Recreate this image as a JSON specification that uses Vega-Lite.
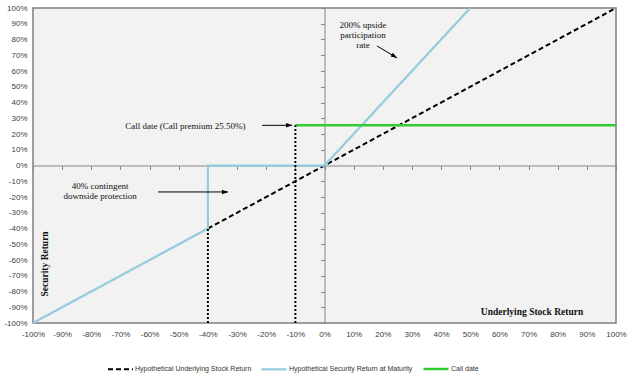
{
  "$schema": "https://vega.github.io/schema/vega-lite/v6.json",
  "width": 583,
  "height": 315,
  "autosize": {"type": "none"},
  "padding": {"left": 33, "top": 8, "right": 14, "bottom": 61},
  "background": "white",
  "config": {
    "view": {"fill": "#f2f2f2", "stroke": "#7f7f7f", "strokeWidth": 1.5},
    "locale": {"number": {"decimal": ".", "thousands": ",", "grouping": [3], "currency": ["$", ""], "minus": "-"}},
    "axis": {"labelFont": "Liberation Sans", "labelFontSize": 8, "labelColor": "#404040", "grid": false, "title": null}
  },
  "datasets": {
    "lines": [
      {"series": "Hypothetical Underlying Stock Return", "step": 1, "x": -0.4, "y": -0.4},
      {"series": "Hypothetical Underlying Stock Return", "step": 2, "x": 1, "y": 1},
      {"series": "Hypothetical Security Return at Maturity", "step": 1, "x": -1, "y": -1},
      {"series": "Hypothetical Security Return at Maturity", "step": 2, "x": -0.4, "y": -0.4},
      {"series": "Hypothetical Security Return at Maturity", "step": 3, "x": -0.4, "y": 0},
      {"series": "Hypothetical Security Return at Maturity", "step": 4, "x": 0, "y": 0},
      {"series": "Hypothetical Security Return at Maturity", "step": 5, "x": 0.5, "y": 1},
      {"series": "Call date", "step": 1, "x": -0.1, "y": 0.255},
      {"series": "Call date", "step": 2, "x": 1, "y": 0.255}
    ],
    "dotted": [
      {"x": -0.4, "y": -1, "y2": -0.4},
      {"x": -0.1, "y": -1, "y2": 0.255}
    ],
    "arrows": [
      {"id": "a1", "x": 0.18, "y": 0.759, "x2": 0.249, "y2": 0.683},
      {"id": "a2", "x": -0.214, "y": 0.255, "x2": -0.111, "y2": 0.255},
      {"id": "a3", "x": -0.571, "y": -0.168, "x2": -0.331, "y2": -0.168}
    ],
    "heads": [
      {"id": "a1", "x": 0.24, "y": 0.693},
      {"id": "a2", "x": -0.121, "y": 0.255},
      {"id": "a3", "x": -0.341, "y": -0.168}
    ],
    "notes": [
      {"label": "200% upside\nparticipation\nrate", "x": 0.132, "y": 0.892},
      {"label": "Call date (Call premium 25.50%)", "x": -0.477, "y": 0.252},
      {"label": "40% contingent\ndownside protection", "x": -0.77, "y": -0.13}
    ]
  },
  "resolve": {"axis": {"x": "independent", "y": "independent"}},
  "layer": [
    {
      "data": {"name": "dotted"},
      "mark": {"type": "rule", "opacity": 0},
      "encoding": {
        "x": {"field": "x", "type": "quantitative", "scale": {"domain": [-1, 1], "nice": false, "zero": false},
          "axis": {"orient": "bottom", "values": [-1, -0.9, -0.8, -0.7, -0.6, -0.5, -0.4, -0.3, -0.2, -0.1, 0, 0.1, 0.2, 0.3, 0.4, 0.5, 0.6, 0.7, 0.8, 0.9, 1], "format": ".0%", "ticks": false, "domain": false, "labelPadding": 7, "labelFlush": false, "labelOverlap": false}},
        "y": {"field": "y", "type": "quantitative", "scale": {"domain": [-1, 1], "nice": false, "zero": false},
          "axis": {"orient": "left", "values": [-1, -0.9, -0.8, -0.7, -0.6, -0.5, -0.4, -0.3, -0.2, -0.1, 0, 0.1, 0.2, 0.3, 0.4, 0.5, 0.6, 0.7, 0.8, 0.9, 1], "format": ".0%", "ticks": false, "domain": false, "labelPadding": 6, "labelFlush": false, "labelOverlap": false}}
      }
    },
    {
      "data": {"name": "dotted"},
      "mark": {"type": "rule", "opacity": 0},
      "encoding": {
        "x": {"field": "x", "type": "quantitative",
          "axis": {"orient": "bottom", "offset": -157.5, "values": [-1, -0.9, -0.8, -0.7, -0.6, -0.5, -0.4, -0.3, -0.2, -0.1, 0, 0.1, 0.2, 0.3, 0.4, 0.5, 0.6, 0.7, 0.8, 0.9, 1], "labels": false, "ticks": true, "tickSize": 4, "tickColor": "#868686", "domain": true, "domainColor": "#868686"}},
        "y": {"field": "y", "type": "quantitative",
          "axis": {"orient": "left", "offset": -291.5, "values": [-1, -0.9, -0.8, -0.7, -0.6, -0.5, -0.4, -0.3, -0.2, -0.1, 0, 0.1, 0.2, 0.3, 0.4, 0.5, 0.6, 0.7, 0.8, 0.9, 1], "labels": false, "ticks": true, "tickSize": 4, "tickColor": "#868686", "domain": true, "domainColor": "#868686"}}
      }
    },
    {
      "data": {"name": "lines"},
      "mark": {"type": "line"},
      "encoding": {
        "x": {"field": "x", "type": "quantitative", "axis": null},
        "y": {"field": "y", "type": "quantitative", "axis": null},
        "order": {"field": "step", "type": "quantitative"},
        "color": {"field": "series", "type": "nominal",
          "scale": {"domain": ["Hypothetical Underlying Stock Return", "Hypothetical Security Return at Maturity", "Call date"], "range": ["#000000", "#93cddd", "#33cc33"]},
          "legend": {"title": null, "orient": "none", "legendX": 74, "legendY": 347, "direction": "horizontal", "symbolType": "stroke", "symbolSize": 625, "symbolStrokeWidth": 2, "labelFont": "Liberation Sans", "labelFontSize": 7, "labelColor": "#333333", "labelOffset": 1, "columnPadding": 5}},
        "strokeDash": {"field": "series", "type": "nominal",
          "scale": {"domain": ["Hypothetical Underlying Stock Return", "Hypothetical Security Return at Maturity", "Call date"], "range": [[5, 3], [1, 0], [1, 0]]},
          "legend": {"title": null, "orient": "none", "legendX": 74, "legendY": 347, "direction": "horizontal", "symbolType": "stroke", "symbolSize": 625, "symbolStrokeWidth": 2, "labelFont": "Liberation Sans", "labelFontSize": 7, "labelColor": "#333333", "labelOffset": 1, "columnPadding": 5}},
        "strokeWidth": {"field": "series", "type": "nominal",
          "scale": {"domain": ["Hypothetical Underlying Stock Return", "Hypothetical Security Return at Maturity", "Call date"], "range": [2, 2.5, 2.5]},
          "legend": null}
      }
    },
    {
      "data": {"name": "dotted"},
      "mark": {"type": "rule", "color": "#000000", "strokeWidth": 2, "strokeDash": [2, 2]},
      "encoding": {
        "x": {"field": "x", "type": "quantitative", "axis": null},
        "y": {"field": "y", "type": "quantitative", "axis": null},
        "y2": {"field": "y2"}
      }
    },
    {
      "data": {"name": "arrows"},
      "mark": {"type": "rule", "color": "#000000", "strokeWidth": 1},
      "encoding": {
        "x": {"field": "x", "type": "quantitative", "axis": null},
        "y": {"field": "y", "type": "quantitative", "axis": null},
        "x2": {"field": "x2"},
        "y2": {"field": "y2"}
      }
    },
    {
      "data": {"name": "heads"},
      "transform": [{"filter": "datum.id == 'a1'"}],
      "mark": {"type": "point", "shape": "M0,-1L0.7,1L-0.7,1Z", "filled": true, "color": "#000000", "size": 40, "angle": 121, "opacity": 1},
      "encoding": {
        "x": {"field": "x", "type": "quantitative", "axis": null},
        "y": {"field": "y", "type": "quantitative", "axis": null}
      }
    },
    {
      "data": {"name": "heads"},
      "transform": [{"filter": "datum.id != 'a1'"}],
      "mark": {"type": "point", "shape": "M0,-1L0.7,1L-0.7,1Z", "filled": true, "color": "#000000", "size": 40, "angle": 90, "opacity": 1},
      "encoding": {
        "x": {"field": "x", "type": "quantitative", "axis": null},
        "y": {"field": "y", "type": "quantitative", "axis": null}
      }
    },
    {
      "data": {"name": "notes"},
      "mark": {"type": "text", "font": "Liberation Serif", "fontSize": 9, "color": "#111111", "align": "center", "baseline": "middle", "lineBreak": "\n", "lineHeight": 10},
      "encoding": {
        "x": {"field": "x", "type": "quantitative", "axis": null},
        "y": {"field": "y", "type": "quantitative", "axis": null},
        "text": {"field": "label"}
      }
    },
    {
      "data": {"values": [{"label": "Underlying Stock Return", "x": 0.712, "y": -0.928}]},
      "mark": {"type": "text", "font": "Liberation Serif", "fontSize": 9.5, "fontWeight": "bold", "color": "#111111", "align": "center", "baseline": "middle"},
      "encoding": {
        "x": {"field": "x", "type": "quantitative", "axis": null},
        "y": {"field": "y", "type": "quantitative", "axis": null},
        "text": {"field": "label"}
      }
    },
    {
      "data": {"values": [{"label": "Security Return", "x": -0.959, "y": -0.625}]},
      "mark": {"type": "text", "font": "Liberation Serif", "fontSize": 9.5, "fontWeight": "bold", "color": "#111111", "align": "center", "baseline": "middle", "angle": 270},
      "encoding": {
        "x": {"field": "x", "type": "quantitative", "axis": null},
        "y": {"field": "y", "type": "quantitative", "axis": null},
        "text": {"field": "label"}
      }
    }
  ]
}
